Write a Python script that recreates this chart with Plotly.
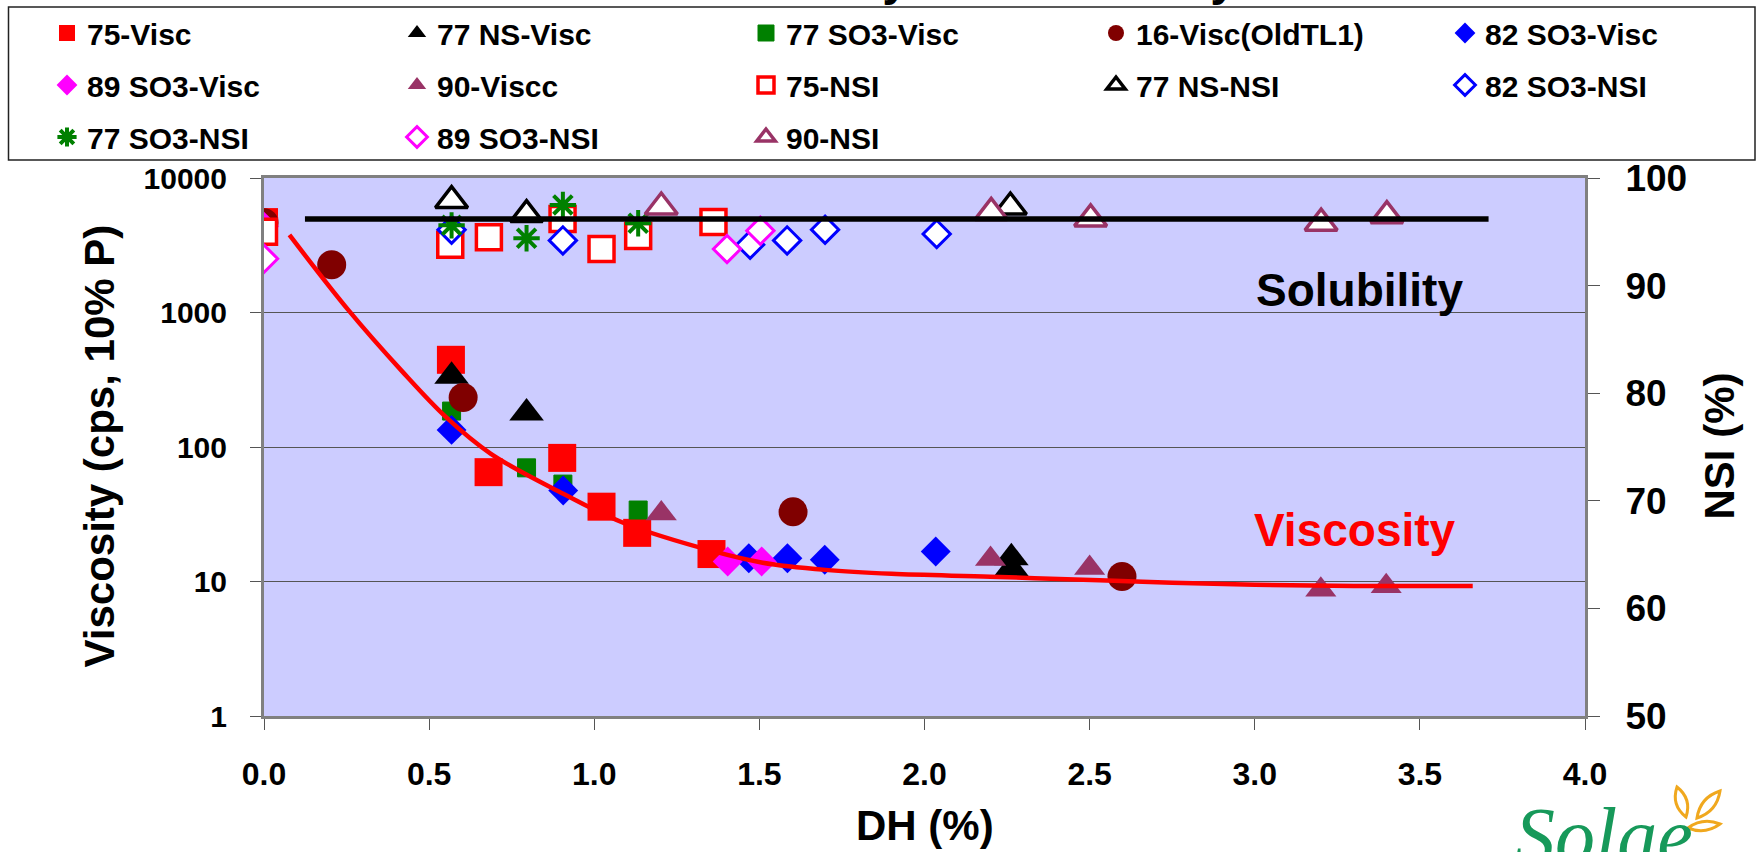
import plotly.graph_objects as go

# ---------------- data ----------------
dh_75_visc = [0.0, 0.566, 0.68, 0.903, 1.022, 1.13, 1.355]
visc_75 = [4700, 445, 65, 83, 36, 23, 16]

dh_77ns_visc = [0.568, 0.795, 2.263, 2.263]
visc_77ns = [336, 179, 15, 12.5]

dh_77so3_visc = [0.568, 0.795, 0.905, 1.133]
visc_77so3 = [185, 70, 53, 34]

dh_16_visc = [0.0, 0.205, 0.603, 1.602, 2.598]
visc_16 = [4650, 2260, 233, 33, 10.9]

dh_82so3_visc = [0.568, 0.906, 1.468, 1.585, 1.698, 2.034]
visc_82so3 = [134, 47.5, 14.9, 14.9, 14.5, 16.7]

dh_89so3_visc = [0.0, 1.404, 1.507]
visc_89so3 = [4350, 14.1, 14.1]

dh_90_visc = [1.203, 2.2, 2.5, 3.2, 3.398]
visc_90 = [32, 14.7, 12.6, 8.7, 9.2]

dh_75_nsi = [0.0, 0.564, 0.681, 0.904, 1.022, 1.133, 1.361]
nsi_75 = [95.0, 93.8, 94.5, 96.2, 93.4, 94.6, 95.9]

dh_77ns_nsi = [0.568, 0.795, 2.26]
nsi_77ns = [97.9, 96.6, 97.3]

dh_82so3_nsi = [0.568, 0.905, 1.472, 1.584, 1.699, 2.037]
nsi_82so3 = [95.2, 94.2, 93.8, 94.2, 95.2, 94.8]

dh_77so3_nsi = [0.568, 0.795, 0.905, 1.133]
nsi_77so3 = [95.6, 94.4, 97.5, 95.8]

dh_89so3_nsi = [0.0, 1.402, 1.503]
nsi_89so3 = [92.5, 93.4, 95.1]

dh_90_nsi = [1.203, 2.202, 2.503, 3.201, 3.4]
nsi_90 = [97.3, 96.8, 96.2, 95.8, 96.5]

# trend lines
dh_visc_fit = [0.077, 0.255, 0.417, 0.552, 0.687, 0.906, 1.093, 1.36, 1.51,
               1.70, 1.90, 2.20, 2.53, 2.75, 3.0, 3.3, 3.66]
visc_fit = [3775, 1045, 368, 166, 89, 45, 27, 16.8, 13.8,
            12.2, 11.4, 10.85, 10.2, 9.8, 9.45, 9.25, 9.25]
dh_nsi_line = [0.124, 3.708]
nsi_line = [96.2, 96.2]

# axis ticks
visc_tickvals = [1, 10, 100, 1000, 10000]
visc_ticktext = ["1", "10", "100", "1000", "10000"]
dh_tickvals = [0.0, 0.5, 1.0, 1.5, 2.0, 2.5, 3.0, 3.5, 4.0]
nsi_tickvals = [50, 60, 70, 80, 90, 100]

# ---------------- styling / geometry ----------------
W, H = 1758, 852
ML, MR, MT, MB = 264, 173, 178, 136
PW, PH = W - ML - MR, H - MT - MB
FONT = "Liberation Sans, Arial, sans-serif"


def px_to_paper(px, py):
    return (px - ML) / PW, (H - MB - py) / PH


RED, BLACK, GREEN, MAROON, BLUE, MAGENTA, PLUM = (
    "#FF0000", "#000000", "#008000", "#800000", "#0000FF", "#FF00FF", "#993366")

fig = go.Figure()


def add(x, y, name, legend, symbol, size, color, line_color=None, line_width=0, y2=False):
    fig.add_trace(go.Scatter(
        x=x, y=y, name=name, mode="markers", legend=legend, legendgroup=name,
        yaxis="y2" if y2 else "y",
        marker=dict(symbol=symbol, size=size, color=color,
                    line=dict(color=line_color or color, width=line_width)),
    ))


add(dh_75_visc, visc_75, "75-Visc", "legend", "square", 28, RED)
add(dh_77ns_visc, visc_77ns, "77 NS-Visc", "legend2", "triangle-up", 30, BLACK)
add(dh_77so3_visc, visc_77so3, "77 SO3-Visc", "legend3", "square", 18, GREEN, GREEN, 1)
add(dh_16_visc, visc_16, "16-Visc(OldTL1)", "legend4", "circle", 29, MAROON)
add(dh_82so3_visc, visc_82so3, "82 SO3-Visc", "legend5", "diamond", 23, BLUE)
add(dh_89so3_visc, visc_89so3, "89 SO3-Visc", "legend", "diamond", 23, MAGENTA)
add(dh_90_visc, visc_90, "90-Viscc", "legend2", "triangle-up", 27, PLUM)
add(dh_75_nsi, nsi_75, "75-NSI", "legend3", "square", 25, "white", RED, 3.5, True)
add(dh_77ns_nsi, nsi_77ns, "77 NS-NSI", "legend4", "triangle-up", 28, "white", BLACK, 3.5, True)
add(dh_82so3_nsi, nsi_82so3, "82 SO3-NSI", "legend5", "diamond", 21, "white", BLUE, 3, True)
add(dh_77so3_nsi, nsi_77so3, "77 SO3-NSI", "legend", "asterisk-open", 22, GREEN, GREEN, 4, True)
add(dh_89so3_nsi, nsi_89so3, "89 SO3-NSI", "legend2", "diamond", 21, "white", MAGENTA, 3, True)
add(dh_90_nsi, nsi_90, "90-NSI", "legend3", "triangle-up", 28, "white", PLUM, 3.5, True)

# trend lines on top
fig.add_trace(go.Scatter(x=dh_visc_fit, y=visc_fit, mode="lines", showlegend=False,
                         line=dict(color=RED, width=4.5, shape="spline", smoothing=1.0),
                         hoverinfo="skip"))
fig.add_trace(go.Scatter(x=dh_nsi_line, y=nsi_line, mode="lines", showlegend=False,
                         yaxis="y2", line=dict(color=BLACK, width=5.5), hoverinfo="skip"))

# ---------------- legends: five columns ----------------
legend_font = dict(family=FONT, size=30, color="black", weight="bold")
col_marker_x = [67, 417, 766, 1116, 1465]
legend_top_px = 7.0
legend_names = ["legend", "legend2", "legend3", "legend4", "legend5"]
legend_layout = {}
for name, cx in zip(legend_names, col_marker_x):
    legend_layout[name] = dict(
        xref="container", yref="container",
        x=(cx - 20) / W, y=1 - legend_top_px / H,
        xanchor="left", yanchor="top",
        orientation="v", traceorder="grouped", tracegroupgap=10,
        bgcolor="rgba(0,0,0,0)", borderwidth=0, font=legend_font,
    )

# legend frame
bx0, by0 = px_to_paper(8.5, 160)
bx1, by1 = px_to_paper(1755, 7)
shapes = [dict(type="rect", xref="paper", yref="paper", x0=bx0, y0=by0, x1=bx1, y1=by1,
               line=dict(color="#222222", width=1.5), fillcolor="white", layer="below")]


# logo leaves
def leaf(p1, p2, bulge):
    (x1, y1), (x2, y2) = p1, p2
    mx, my = (x1 + x2) / 2, (y1 + y2) / 2
    dx, dy = x2 - x1, y2 - y1
    L = (dx * dx + dy * dy) ** 0.5
    nx, ny = -dy / L * bulge, dx / L * bulge
    pts = [(x1, y1), (mx + nx, my + ny), (x2, y2), (mx - nx, my - ny)]
    q = [px_to_paper(*p) for p in pts]
    return (f"M{q[0][0]},{q[0][1]} Q{q[1][0]},{q[1][1]} {q[2][0]},{q[2][1]} "
            f"Q{q[3][0]},{q[3][1]} {q[0][0]},{q[0][1]} Z")


for p1, p2, b in [((1677, 787), (1686, 817), 11), ((1697, 818), (1720, 791), 11),
                  ((1688, 828), (1720, 824), 9)]:
    shapes.append(dict(type="path", xref="paper", yref="paper", path=leaf(p1, p2, b),
                       line=dict(color="#F0A81E", width=3), fillcolor="white", layer="above"))

# ---------------- annotations ----------------
tx, ty = px_to_paper(697, 7)
lx, ly = px_to_paper(1513, 790)
ytx, yty = px_to_paper(99, 446.5)
y2x, y2y = px_to_paper(1719, 446.5)
xtx, xty = px_to_paper(924.5, 826)
title_font = dict(family=FONT, size=42, color="black", weight="bold")
annotations = [
    dict(text="Solubility", x=3.317, y=89.6, xref="x", yref="y2", showarrow=False,
         font=dict(family=FONT, size=46, color="black", weight="bold")),
    dict(text="Viscosity", x=3.305, y=67.3, xref="x", yref="y2", showarrow=False,
         font=dict(family=FONT, size=46, color=RED, weight="bold")),
    # axis titles
    dict(text="Viscosity (cps, 10% P)", x=ytx, y=yty, xref="paper", yref="paper",
         textangle=-90, xanchor="center", yanchor="middle", showarrow=False, font=title_font),
    dict(text="NSI (%)", x=y2x, y=y2y, xref="paper", yref="paper",
         textangle=-90, xanchor="center", yanchor="middle", showarrow=False, font=title_font),
    dict(text="DH (%)", x=xtx, y=xty, xref="paper", yref="paper",
         xanchor="center", yanchor="middle", showarrow=False, font=title_font),
    # chart title, mostly above the top edge of the picture
    dict(text="Viscosity and Solubility", x=tx, y=ty, xref="paper", yref="paper",
         xanchor="left", yanchor="bottom", showarrow=False,
         font=dict(family=FONT, size=48, color="black", weight="bold")),
    # logo
    dict(text="<i>Solae</i>", x=lx, y=ly, xref="paper", yref="paper",
         xanchor="left", yanchor="top", showarrow=False,
         font=dict(family="Liberation Serif, serif", size=80, color="#17995A")),
]

axis_line = dict(showline=True, linecolor="#808080", linewidth=3)
fig.update_layout(
    width=W, height=H,
    margin=dict(l=ML, r=MR, t=MT, b=MB, autoexpand=False),
    paper_bgcolor="white", plot_bgcolor="#CCCCFF",
    font=dict(family=FONT, color="black"),
    showlegend=True,
    xaxis=dict(range=[0, 4], tickvals=dh_tickvals, tickformat=".1f",
               ticks="outside", ticklen=11, tickcolor="#555555", tickwidth=1,
               ticklabelstandoff=17, showgrid=False, zeroline=False, mirror=True,
               tickfont=dict(family=FONT, size=32, weight="bold"),
               **axis_line),
    yaxis=dict(type="log", range=[0, 4], tickvals=visc_tickvals, ticktext=visc_ticktext,
               ticks="outside", ticklen=11, tickcolor="#555555", tickwidth=1,
               ticklabelstandoff=17, showgrid=True, gridcolor="#555555", gridwidth=1,
               zeroline=False, mirror=True,
               tickfont=dict(family=FONT, size=30, weight="bold"),
               **axis_line),
    yaxis2=dict(overlaying="y", side="right", range=[50, 100], tickvals=nsi_tickvals,
                ticks="outside", ticklen=12, tickcolor="#555555", tickwidth=1,
                ticklabelstandoff=18, showgrid=False, zeroline=False,
                tickfont=dict(family=FONT, size=37, weight="bold"),
                **axis_line),
    shapes=shapes,
    annotations=annotations,
    **legend_layout,
)

fig.write_html("out.html", config={"displayModeBar": False},
               post_script="document.body.style.margin='0px';")
